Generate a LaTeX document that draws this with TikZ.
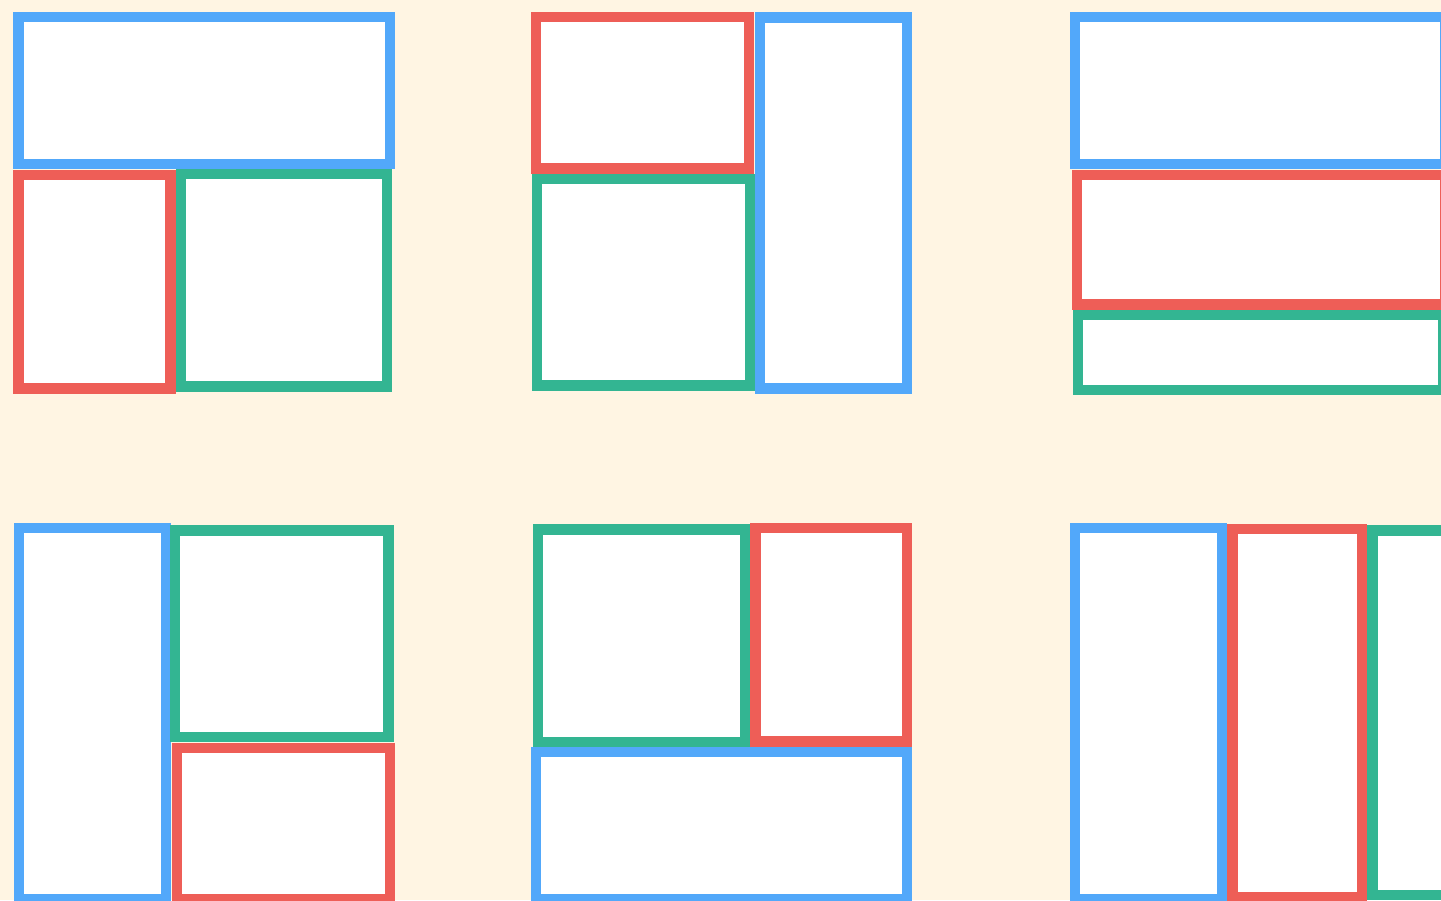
\documentclass[tikz,border=0pt]{standalone}
\definecolor{bg}{RGB}{255,245,227}
\definecolor{cblue}{RGB}{82,168,250}
\definecolor{cred}{RGB}{238,94,87}
\definecolor{cgreen}{RGB}{51,181,146}
\tikzset{
  boxb/.style={draw=cblue,fill=white,line width=10.4pt},
  boxr/.style={draw=cred,fill=white,line width=10.4pt},
  boxg/.style={draw=cgreen,fill=white,line width=10.4pt}
}
\begin{document}
\begin{tikzpicture}[x=1pt,y=-1pt]
\useasboundingbox (0,0) rectangle (1441,900);
\clip (0,0) rectangle (1441,900);
\fill[bg] (0,0) rectangle (1441,900);
% panel 1
\path[boxb] (18.5,17.2) rectangle (389.7,164.2);
\path[boxr] (18.3,174.8) rectangle (170.3,388.3);
\path[boxg] (180.8,173.8) rectangle (387.2,386.5);
% panel 2
\path[boxr] (535.7,17) rectangle (748.8,168.5);
\path[boxg] (537.2,179) rectangle (750.3,385.3);
\path[boxb] (759.7,17.3) rectangle (907,388.3);
% panel 3
\path[boxb] (1074.7,17.2) rectangle (1445,164.2);
\path[boxr] (1077,174.8) rectangle (1445,304.3);
\path[boxg] (1078,314.8) rectangle (1443.5,389.7);
% panel 4
\path[boxb] (18.7,528) rectangle (165.8,899);
\path[boxg] (175.2,530.3) rectangle (388.5,737.2);
\path[boxr] (176.7,747.7) rectangle (390,899);
% panel 5
\path[boxg] (538,529.3) rectangle (744.8,742.5);
\path[boxr] (755.3,528) rectangle (907.2,741.3);
\path[boxb] (535.8,752) rectangle (906.7,899);
% panel 6
\path[boxb] (1074.7,528) rectangle (1221.8,899);
\path[boxr] (1232.5,528.7) rectangle (1361.7,897);
\path[boxg] (1372.5,530.3) rectangle (1460,895.2);
\end{tikzpicture}
\end{document}
